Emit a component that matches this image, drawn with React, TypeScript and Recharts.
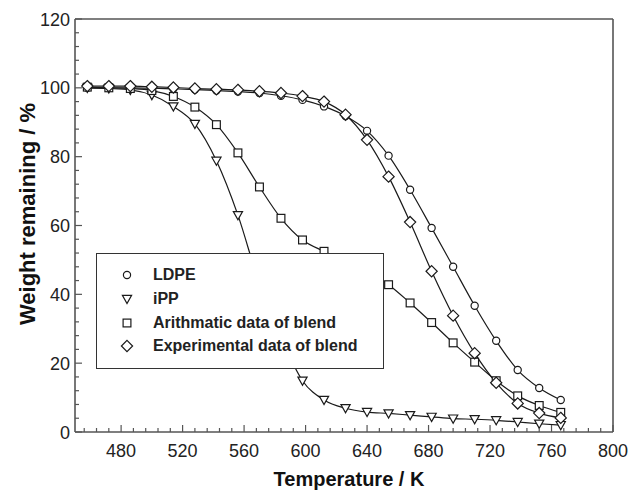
import React from 'react';
import { LineChart, Line, XAxis, YAxis, ReferenceLine } from 'recharts';

const temps = [458, 472, 486, 500, 514, 528, 542, 556, 570, 584, 598, 612, 626, 640, 654, 668, 682, 696, 710, 724, 738, 752, 766];
const ldpe = [100.0, 100.0, 100.0, 99.9, 99.7, 99.5, 99.2, 98.9, 98.5, 97.7, 96.5, 94.6, 91.8, 87.5, 80.3, 70.4, 59.3, 48.0, 36.7, 26.5, 18.0, 12.8, 9.3];
const ipp = [100.0, 99.8, 99.4, 97.9, 94.6, 89.5, 78.8, 63.0, 43.0, 27.5, 14.9, 9.3, 6.9, 5.8, 5.4, 4.9, 4.4, 3.9, 3.7, 3.4, 2.9, 2.4, 2.0];
const arith = [100.2, 100.0, 99.8, 99.2, 97.5, 94.4, 89.3, 81.1, 71.2, 62.1, 55.8, 52.5, 49.5, 46.8, 42.8, 37.5, 31.8, 25.9, 20.3, 14.9, 10.5, 7.7, 5.7];
const expBlend = [100.5, 100.5, 100.5, 100.3, 100.1, 99.8, 99.6, 99.4, 99.0, 98.5, 97.6, 96.0, 92.2, 84.9, 74.2, 61.0, 46.7, 33.8, 22.9, 14.3, 8.3, 5.5, 4.1];

const seriesNames = ['LDPE', 'iPP', 'Arithmatic data of blend', 'Experimental data of blend'];
const seriesKeys = ['ldpe', 'ipp', 'arith', 'exp'];
const seriesShapes = ['circle', 'tri', 'square', 'diamond'];

const xTicks: number[] = [];
for (let t = 456; t <= 800; t += 8) xTicks.push(t);
const yTicks: number[] = [];
for (let v = 0; v <= 120; v += 4) yTicks.push(v);

const data = temps.map((t, i) => ({ t, ldpe: ldpe[i], ipp: ipp[i], arith: arith[i], exp: expBlend[i] }));

const FONT = '"Liberation Sans", Arial, Helvetica, sans-serif';
const AXIS = '#555';
const INK = '#1a1a1a';

function Marker({ shape, cx, cy }: { shape: string; cx: number; cy: number }) {
  const common = { fill: '#fff', stroke: INK, strokeWidth: 1.2 };
  if (shape === 'circle') return <circle cx={cx} cy={cy} r={3.6} {...common} />;
  if (shape === 'tri')
    return <polygon points={`${cx - 4.6},${cy - 3.6} ${cx + 4.6},${cy - 3.6} ${cx},${cy + 4.6}`} {...common} />;
  if (shape === 'square') return <rect x={cx - 3.9} y={cy - 3.9} width={7.8} height={7.8} {...common} />;
  return <polygon points={`${cx},${cy - 5.6} ${cx + 5.6},${cy} ${cx},${cy + 5.6} ${cx - 5.6},${cy}`} {...common} />;
}

const makeDot = (shape: string) => (props: any) => {
  const { cx, cy, index } = props;
  if (cx == null || cy == null) return <g key={`d-${shape}-${index}`} />;
  return <Marker key={`d-${shape}-${index}`} shape={shape} cx={cx} cy={cy} />;
};

const XTick = (props: any) => {
  const { x, y, payload } = props;
  const v = payload.value;
  const major = v % 40 === 0;
  return (
    <g>
      <line x1={x} x2={x} y1={y} y2={y - (major ? 7 : 4)} stroke={AXIS} strokeWidth={1.2} />
      {major && (
        <text x={x} y={y + 25} textAnchor="middle" fontSize={18} fill="#222" fontFamily={FONT}>
          {v}
        </text>
      )}
    </g>
  );
};

const YTick = (props: any) => {
  const { x, y, payload } = props;
  const v = payload.value;
  const major = v % 20 === 0;
  return (
    <g>
      <line x1={x} x2={x + (major ? 7 : 4)} y1={y} y2={y} stroke={AXIS} strokeWidth={1.2} />
      {major && (
        <text x={x - 5} y={y + 6.5} textAnchor="end" fontSize={18} fill="#222" fontFamily={FONT}>
          {v}
        </text>
      )}
    </g>
  );
};

function LegendIcon({ shape }: { shape: string }) {
  return (
    <svg width={16} height={16} style={{ display: 'block' }}>
      <Marker shape={shape} cx={8} cy={8} />
    </svg>
  );
}

export default function App() {
  return (
    <div style={{ position: 'absolute', left: 0, top: 0, width: 632, height: 492, background: '#fff' }}>
      <LineChart
        width={632}
        height={492}
        data={data}
        margin={{ top: 19, right: 19, bottom: 0, left: 0 }}
      >
        <XAxis
          dataKey="t"
          type="number"
          domain={[450, 800]}
          ticks={xTicks}
          interval={0}
          tick={<XTick />}
          tickLine={false}
          tickSize={0}
          tickMargin={0}
          height={60}
          axisLine={{ stroke: AXIS, strokeWidth: 1.6 }}
          label={{
            content: () => (
              <text x={349} y={486} textAnchor="middle" fontSize={20} fontWeight="bold" fill="#111" fontFamily={FONT}>
                Temperature / K
              </text>
            ),
          }}
        />
        <YAxis
          type="number"
          domain={[0, 120]}
          ticks={yTicks}
          interval={0}
          tick={<YTick />}
          tickLine={false}
          tickSize={0}
          tickMargin={0}
          width={75}
          axisLine={{ stroke: AXIS, strokeWidth: 1.6 }}
          label={{
            content: () => (
              <text
                x={27}
                y={214}
                transform="rotate(-90, 27, 214)"
                textAnchor="middle"
                dominantBaseline="central"
                fontSize={22}
                fontWeight="bold"
                fill="#111"
                fontFamily={FONT}
              >
                Weight remaining / %
              </text>
            ),
          }}
        />
        <ReferenceLine y={120} stroke={AXIS} strokeWidth={1.6} />
        <ReferenceLine x={800} stroke={AXIS} strokeWidth={1.6} />
        {seriesKeys.map((k, i) => (
          <Line
            key={k}
            dataKey={k}
            name={seriesNames[i]}
            type="monotone"
            stroke={INK}
            strokeWidth={1.2}
            dot={makeDot(seriesShapes[i])}
            activeDot={false}
            isAnimationActive={false}
          />
        ))}
      </LineChart>
      <div
        style={{
          position: 'absolute',
          left: 96,
          top: 253,
          width: 288,
          height: 116,
          boxSizing: 'border-box',
          border: '1.3px solid #333',
          background: '#fff',
          fontFamily: FONT,
        }}
      >
        {seriesNames.map((n, i) => (
          <div
            key={n}
            style={{ position: 'absolute', left: 22, top: 11 + i * 23.8, height: 20, display: 'flex', alignItems: 'center' }}
          >
            <LegendIcon shape={seriesShapes[i]} />
            <span style={{ marginLeft: 18, fontSize: 16, fontWeight: 'bold', color: '#222', whiteSpace: 'nowrap' }}>{n}</span>
          </div>
        ))}
      </div>
    </div>
  );
}
